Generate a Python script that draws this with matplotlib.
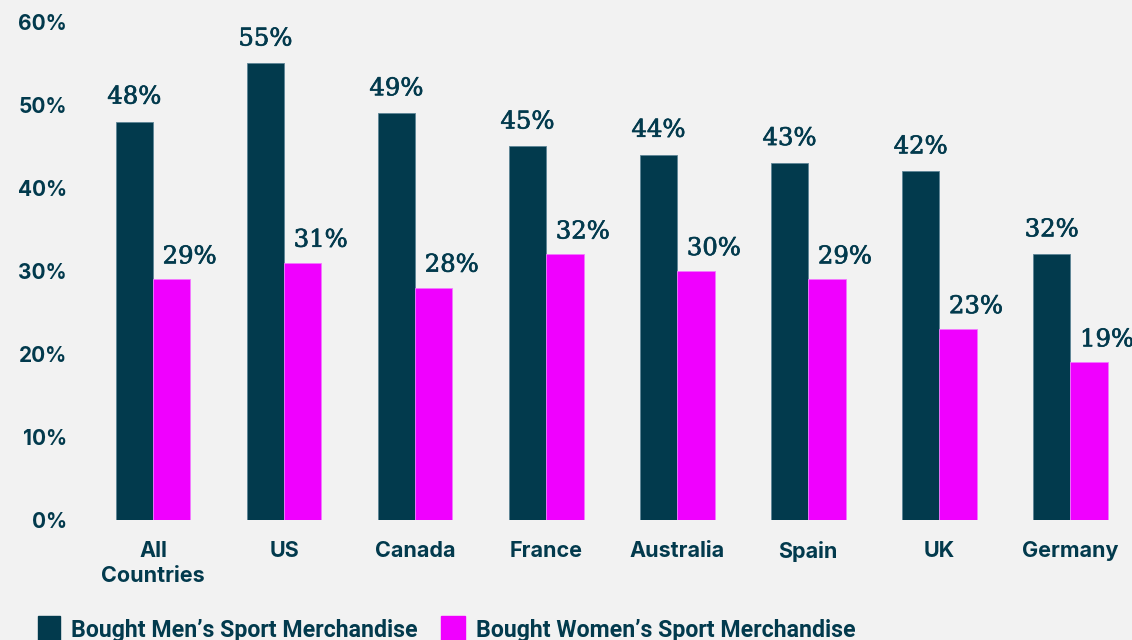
import matplotlib
matplotlib.use("Agg")
import matplotlib.pyplot as plt
from matplotlib.patches import Rectangle
from matplotlib.font_manager import fontManager
import matplotlib.patheffects as pe

categories = ["All\nCountries", "US", "Canada", "France", "Australia", "Spain", "UK", "Germany"]
mens = [48, 55, 49, 45, 44, 43, 42, 32]
womens = [29, 31, 28, 32, 30, 29, 23, 19]
yticks = [0, 10, 20, 30, 40, 50, 60]
series_names = ["Bought Men\u2019s Sport Merchandise", "Bought Women\u2019s Sport Merchandise"]

DARK = "#023a4d"
MAGENTA = "#f000ff"
BG = "#f2f2f2"

names = {f.name for f in fontManager.ttflist}
sans = "Inter" if "Inter" in names else "DejaVu Sans"
narrow = "Liberation Sans Narrow" if "Liberation Sans Narrow" in names else "Roboto"
serif = "DejaVu Serif"

W, H = 1132, 640
fig = plt.figure(figsize=(W / 100, H / 100), dpi=100, facecolor=BG)
ax = fig.add_axes([75 / W, (H - 520) / H, (W - 75) / W, (520 - 22) / H])
ax.set_facecolor(BG)

bw = 0.285
x = list(range(len(categories)))
ax.bar([i - bw / 2 for i in x], mens, width=bw, color=DARK, edgecolor="#5d8596", linewidth=0.6)
ax.bar([i + bw / 2 for i in x], womens, width=bw, color=MAGENTA, edgecolor="#f27aff", linewidth=0.6)

bold_fx = [pe.withStroke(linewidth=0.5, foreground=DARK)]
for i in x:
    ax.annotate(f"{mens[i]}%", (i - bw / 2, mens[i]), xytext=(0, 13), textcoords="offset points",
                ha="center", va="baseline", fontsize=17.5, color=DARK, family=serif, path_effects=bold_fx)
    ax.annotate(f"{womens[i]}%", (i + bw / 2, womens[i]), xytext=(-6.5, 11.5), textcoords="offset points",
                ha="left", va="baseline", fontsize=17.5, color=DARK, family=serif, path_effects=bold_fx)

ax.set_xlim(-0.595, 7.47)
ax.set_ylim(0, 60)
ax.set_yticks(yticks)
ax.set_yticklabels([f"{t}%" for t in yticks], fontsize=15, fontweight="bold", color=DARK, family=sans)
ax.set_xticks(x)
ax.set_xticklabels(categories, fontsize=15.5, fontweight="bold", color=DARK, family=sans, linespacing=1.3)
ax.tick_params(length=0, pad=6)
ax.tick_params(axis="x", pad=15)
for s in ax.spines.values():
    s.set_visible(False)

# legend row along the bottom edge
fig.patches.append(Rectangle((38 / W, 0), 22 / W, 24 / H, transform=fig.transFigure, color=DARK))
fig.text(71 / W, 3 / H, series_names[0], fontsize=16.7, color=DARK, family=narrow, fontweight="bold",
         ha="left", va="baseline")
fig.patches.append(Rectangle((441 / W, 0), 24 / W, 24 / H, transform=fig.transFigure, color=MAGENTA))
fig.text(476 / W, 3 / H, series_names[1], fontsize=16.7, color=DARK, family=narrow, fontweight="bold",
         ha="left", va="baseline")

fig.savefig("out.png", dpi=100, facecolor=BG)
